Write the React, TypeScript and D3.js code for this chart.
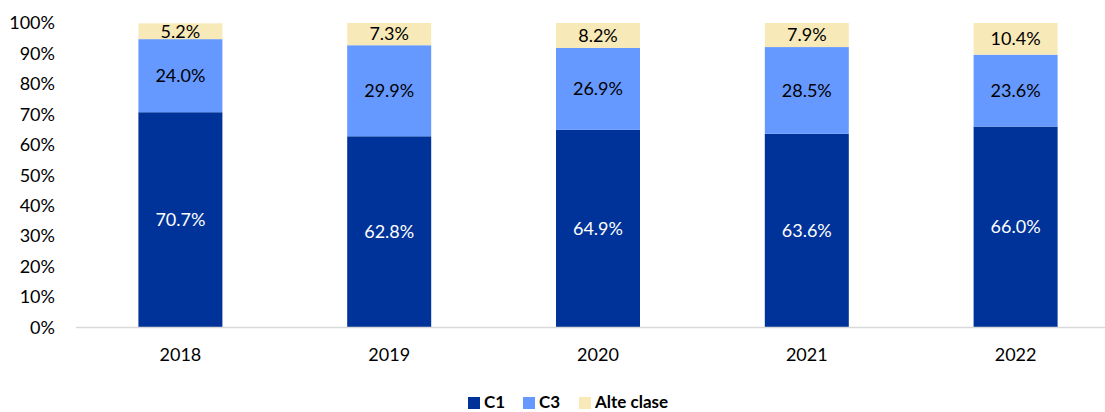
import React from 'react';
import * as d3 from 'd3';

const years = ['2018', '2019', '2020', '2021', '2022'];
const c1 = [70.7, 62.8, 64.9, 63.6, 66.0];
const c3 = [24.0, 29.9, 26.9, 28.5, 23.6];
const alte = [5.2, 7.3, 8.2, 7.9, 10.4];
const seriesNames = ['C1', 'C3', 'Alte clase'];
const yTicks = [0, 10, 20, 30, 40, 50, 60, 70, 80, 90, 100];

const colors = ['#003399', '#6699FF', '#F8EAB8'];
const labelColors = ['#ffffff', '#000000', '#000000'];
const font = 'Lato, "Open Sans", sans-serif';

export default function App() {
  const w = 1105;
  const h = 412;

  const x = d3.scaleBand().domain(years).range([76, 1120]).paddingInner(0).paddingOuter(0);
  const y = d3.scaleLinear().domain([0, 100]).range([327.5, 23]);
  const barW = 84;

  const rows = years.map((yr, i) => ({ year: yr, C1: c1[i], C3: c3[i], 'Alte clase': alte[i] }));
  const stacked = d3.stack<any>().keys(seriesNames)(rows);

  const legendX = [468, 523, 579];

  return (
    <svg width={w} height={h} style={{ position: 'absolute', left: 0, top: 0, fontFamily: font }}>
      {yTicks.map(t => (
        <text key={t} x={55} y={y(t)} dy="0.35em" textAnchor="end" fontSize={18} fill="#000">
          {t}%
        </text>
      ))}
      {stacked.map((s, si) => (
        <g key={s.key}>
          {s.map((d, i) => {
            const cx = (x(years[i]) as number) + x.bandwidth() / 2;
            const top = y(d[1]);
            const bottom = y(d[0]);
            return (
              <g key={i}>
                <rect x={cx - barW / 2} y={top} width={barW} height={bottom - top} fill={colors[si]} />
                <text x={cx} y={(top + bottom) / 2} dy="0.35em" textAnchor="middle" fontSize={18} fill={labelColors[si]}>
                  {(d[1] - d[0]).toFixed(1)}%
                </text>
              </g>
            );
          })}
        </g>
      ))}
      <line x1={76} x2={w} y1={327.5} y2={327.5} stroke="#D9D9D9" strokeWidth={1.5} />
      {years.map(yr => (
        <text key={yr} x={(x(yr) as number) + x.bandwidth() / 2} y={355} dy="0.35em" textAnchor="middle" fontSize={18} fill="#000">
          {yr}
        </text>
      ))}
      {seriesNames.map((n, i) => (
        <g key={n}>
          <rect x={legendX[i]} y={397} width={12} height={12} fill={colors[i]} />
          <text x={legendX[i] + 16} y={408} fontSize={17} fontWeight="bold" fill="#000">
            {n}
          </text>
        </g>
      ))}
    </svg>
  );
}
